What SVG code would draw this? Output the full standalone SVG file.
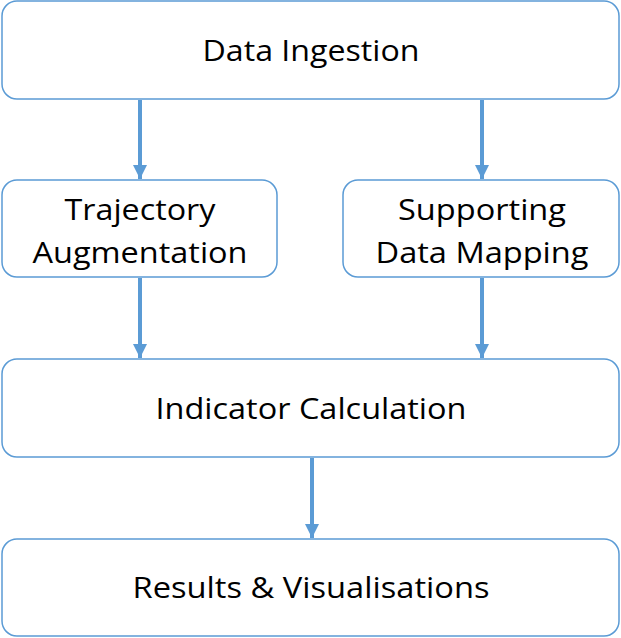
<svg xmlns="http://www.w3.org/2000/svg" width="621" height="638" viewBox="0 0 621 638">
<style>
.box{fill:#fff;stroke:#5B9BD5;stroke-width:1.5}
.t{font-family:"Open Sans","Liberation Sans",Arial,sans-serif;font-size:29px;fill:#000;text-anchor:middle}
.c{stroke:#5B9BD5;stroke-width:4;fill:none}
</style>
<defs>
<marker id="ah" markerUnits="userSpaceOnUse" markerWidth="14" markerHeight="14" refX="14" refY="7" orient="auto" viewBox="0 0 14 14">
<path d="M0,0 L14,7 L0,14 z" fill="#5B9BD5"/>
</marker>
</defs>
<rect width="621" height="638" fill="#fff"/>
<g id="n1"><rect class="box" x="2" y="1" width="617" height="98" rx="15"/><text class="t" x="311" y="61" textLength="217" lengthAdjust="spacingAndGlyphs">Data Ingestion</text></g>
<g id="n2"><rect class="box" x="2" y="180" width="275" height="97" rx="15"/><text class="t" x="140" y="220" textLength="151" lengthAdjust="spacingAndGlyphs">Trajectory</text><text class="t" x="140" y="263" textLength="215" lengthAdjust="spacingAndGlyphs">Augmentation</text></g>
<g id="n3"><rect class="box" x="343" y="180" width="276" height="97" rx="15"/><text class="t" x="482" y="220" textLength="168" lengthAdjust="spacingAndGlyphs">Supporting</text><text class="t" x="482" y="263" textLength="213" lengthAdjust="spacingAndGlyphs">Data Mapping</text></g>
<g id="n4"><rect class="box" x="2" y="359" width="617" height="98" rx="15"/><text class="t" x="311" y="419" textLength="311" lengthAdjust="spacingAndGlyphs">Indicator Calculation</text></g>
<g id="n5"><rect class="box" x="2" y="539" width="617" height="97" rx="15"/><text class="t" x="311" y="598" textLength="357" lengthAdjust="spacingAndGlyphs">Results &amp; Visualisations</text></g>
<g id="connectors">
<line class="c" x1="140" y1="100" x2="140" y2="179" marker-end="url(#ah)"/>
<line class="c" x1="482" y1="100" x2="482" y2="179" marker-end="url(#ah)"/>
<line class="c" x1="140" y1="278" x2="140" y2="358" marker-end="url(#ah)"/>
<line class="c" x1="482" y1="278" x2="482" y2="358" marker-end="url(#ah)"/>
<line class="c" x1="312" y1="458" x2="312" y2="538" marker-end="url(#ah)"/>
</g>
</svg>
